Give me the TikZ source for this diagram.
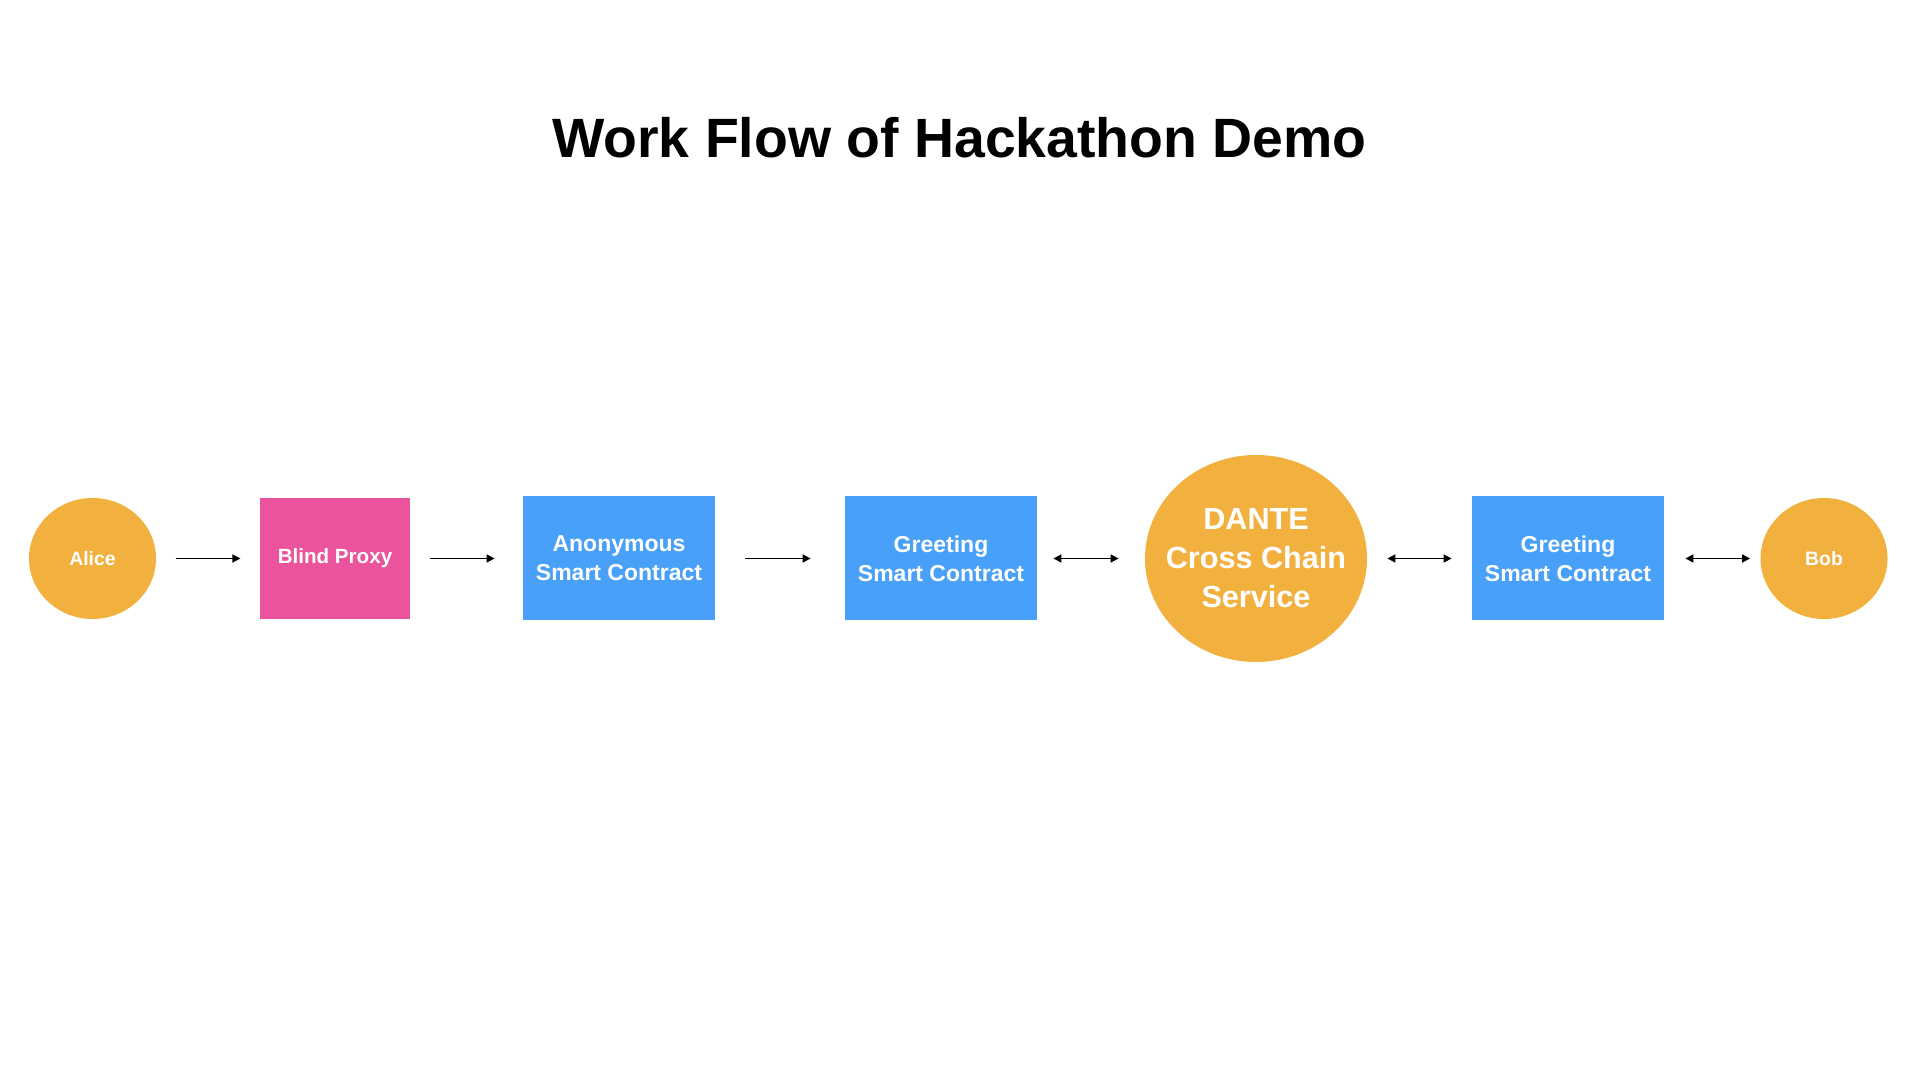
\documentclass[tikz,border=0pt]{standalone}
\usepackage{fontspec}
\setmainfont{Liberation Sans}
\usetikzlibrary{shapes.geometric}
\usetikzlibrary{arrows.meta}
\definecolor{actororange}{HTML}{F2B13F}
\definecolor{proxypink}{HTML}{EB549C}
\definecolor{contractblue}{HTML}{48A0F8}

\begin{document}
\begin{tikzpicture}[x=0.5pt,y=0.5pt,
  actor/.style={ellipse,fill=actororange,text=white,inner sep=0pt,
    font=\fontsize{9.7}{12}\selectfont\bfseries,
    minimum width=63.5pt,minimum height=60.5pt},
  contract/.style={rectangle,fill=contractblue,text=white,inner sep=0pt,align=center,
    font=\fontsize{11.5}{14.7}\selectfont\bfseries,
    minimum width=96pt,minimum height=62pt},
  flow/.style={line width=0.8pt,-{Triangle[length=4pt,width=4pt]}},
  twoway/.style={line width=0.8pt,{Triangle[length=4pt,width=4pt]}-{Triangle[length=4pt,width=4pt]}}]
\useasboundingbox (0,0) rectangle (1920,1080);

\node [anchor=base,font=\fontsize{27.7}{33}\selectfont\bfseries] (title) at (959.5,922) {Work Flow of Hackathon Demo};

\node [actor] (alice) at (92.5,521.5) {Alice};
\node [rectangle,fill=proxypink,text=white,inner sep=0pt,
  font=\fontsize{10.3}{12}\selectfont\bfseries,
  minimum width=75pt,minimum height=60.5pt] (proxy) at (335,521.5) {Blind Proxy};
\node [contract] (anon) at (619,521.5) {Anonymous\\Smart Contract};
\node [contract] (greetA) at (941,521.5) {Greeting\\Smart Contract};
\node [actor,inner sep=-12pt,minimum width=111pt,minimum height=103.5pt,
  font=\fontsize{15.3}{19.5}\selectfont\bfseries,align=center] (dante) at (1256,521.5) {DANTE\\Cross Chain\\Service};
\node [contract] (greetB) at (1568,521.5) {Greeting\\Smart Contract};
\node [actor] (bob) at (1824,521.5) {Bob};

\draw [flow,shorten <=9.6pt,shorten >=9.6pt] (alice) -- (proxy);
\draw [flow,shorten <=10pt,shorten >=14pt] (proxy) -- (anon);
\draw [flow,shorten <=15pt,shorten >=17pt] (anon) -- (greetA);
\draw [twoway,shorten <=8pt,shorten >=13pt] (greetA) -- (dante);
\draw [twoway,shorten <=10pt,shorten >=10pt] (dante) -- (greetB);
\draw [twoway,shorten <=10.5pt,shorten >=5pt] (greetB) -- (bob);

\end{tikzpicture}
\end{document}
